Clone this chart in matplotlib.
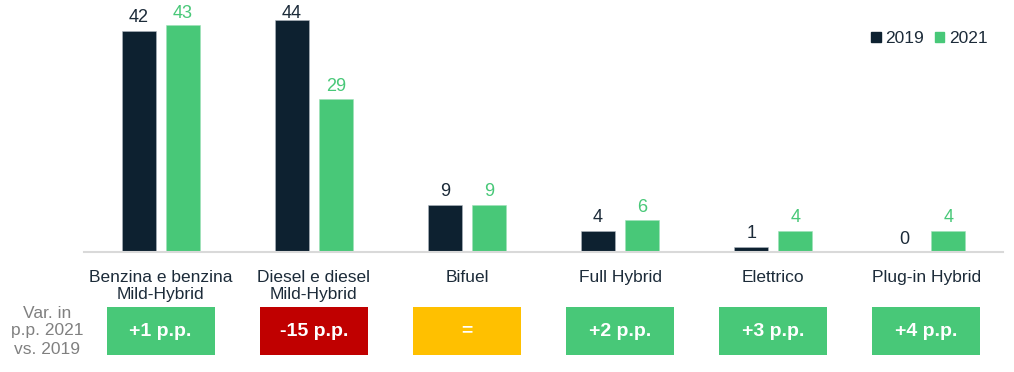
import numpy as np
import matplotlib.pyplot as plt
from matplotlib.patches import Patch, Rectangle

plt.rcParams['font.family'] = ['Liberation Sans', 'DejaVu Sans']

categorie = ['Benzina e benzina\nMild-Hybrid', 'Diesel e diesel\nMild-Hybrid', 'Bifuel',
             'Full Hybrid', 'Elettrico', 'Plug-in Hybrid']
v2019 = [42, 44, 9, 4, 1, 0]
v2021 = [43, 29, 9, 6, 4, 4]
variazioni = ['+1 p.p.', '-15 p.p.', '=', '+2 p.p.', '+3 p.p.', '+4 p.p.']
col_var = ['#48C878', '#C00000', '#FFC000', '#48C878', '#48C878', '#48C878']

scuro = '#0D2130'
verde = '#48C878'
testo = '#1C2B39'

W, H = 1014, 372
fig = plt.figure(figsize=(W/100, H/100), dpi=100)

# asse principale (coordinate in pixel)
ax = fig.add_axes([84/W, (H-252)/H, 919/W, 252/H])
x = np.arange(len(categorie))
off = 22/153.2
bw = 34/153.2
ax.bar(x - off, v2019, bw, color=scuro, edgecolor='#B0B8C0', linewidth=0.4)
ax.bar(x + off, v2021, bw, color=verde, edgecolor='#9FE0B8', linewidth=0.4)
ax.set_xlim(-0.5, 5.5)
ax.set_ylim(0, 47.8)

# etichette valori (tetto per non uscire dal bordo superiore)
def pos_etichetta(v):
    return min(v + 1.6, 44.3)

for i in range(len(x)):
    ax.text(x[i] - off, pos_etichetta(v2019[i]), str(v2019[i]), ha='center',
            va='baseline', fontsize=13, color=testo)
    ax.text(x[i] + off, pos_etichetta(v2021[i]), str(v2021[i]), ha='center',
            va='baseline', fontsize=13, color=verde)

for s in ['top', 'right', 'left']:
    ax.spines[s].set_visible(False)
ax.spines['bottom'].set_color('#D9D9D9')
ax.spines['bottom'].set_linewidth(1.5)
ax.set_yticks([])
ax.set_xticks(x)
ax.set_xticklabels(categorie, fontsize=12.5, color=testo, linespacing=1.15)
ax.tick_params(axis='x', length=0, pad=13)

ax.legend(handles=[Patch(color=scuro, label='2019'), Patch(color=verde, label='2021')],
          loc='upper right', bbox_to_anchor=(0.991, 0.905), borderaxespad=0, ncol=2,
          frameon=False, fontsize=12.5, handlelength=0.55, handleheight=0.55,
          handletextpad=0.28, columnspacing=0.6, labelcolor=testo)

# riquadri variazione
ax2 = fig.add_axes([84/W, (H-360)/H, 919/W, 60/H])
ax2.set_xlim(-0.5, 5.5)
ax2.set_ylim(360, 300)
ax2.axis('off')
bwv = 108/153.2
for i in range(len(x)):
    ax2.add_patch(Rectangle((x[i] - bwv/2, 307), bwv, 48, facecolor=col_var[i],
                            edgecolor='none'))
    ax2.text(x[i], 331, variazioni[i], ha='center', va='center', fontsize=14,
             color='white', fontweight='bold')

fig.text(47/W, 1 - 331/H, 'Var. in\np.p. 2021\nvs. 2019', ha='center', va='center',
         fontsize=12.5, color='#808080', linespacing=1.25)

plt.savefig('out.png', dpi=100)
